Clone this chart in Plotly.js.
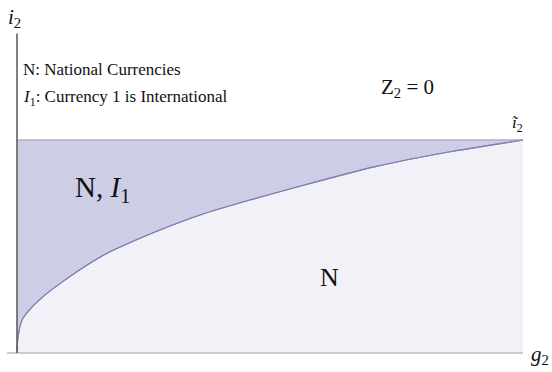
<!DOCTYPE html>
<html>
<head>
<meta charset="utf-8">
<script src="https://cdn.plot.ly/plotly-3.0.1.min.js"></script>
<style>
  html, body { margin: 0; padding: 0; background: #ffffff; }
  #chart { width: 552px; height: 372px; }
</style>
</head>
<body>
<div id="chart"></div>
<script>
// Boundary between the "N" region and the "N, I1" region (g2 normalised, i2 normalised to the ceiling ĩ2 = 1)
const gBoundary = [0, 0.002, 0.010, 0.030, 0.055, 0.089, 0.119, 0.164, 0.190, 0.280, 0.362, 0.460, 0.559, 0.708, 0.856, 0.955, 1.0];
const iBoundary = [0.01, 0.075, 0.155, 0.216, 0.272, 0.333, 0.383, 0.450, 0.482, 0.575, 0.648, 0.718, 0.783, 0.875, 0.945, 0.983, 1.0];

// Ceiling ĩ2 above which Z2 = 0
const gCeiling = [0, 1];
const iCeiling = [1, 1];

const serif = '"Liberation Serif", "Times New Roman", Times, serif';

const traces = [
  {
    // lower region "N"
    x: gBoundary, y: iBoundary, type: 'scatter', mode: 'lines',
    fill: 'tozeroy', fillcolor: '#f1f1f7',
    line: { color: '#8585bb', width: 1.1, shape: 'spline', smoothing: 0.6 },
    hoverinfo: 'skip'
  },
  {
    // upper region "N, I1" up to the ceiling
    x: gCeiling, y: iCeiling, type: 'scatter', mode: 'lines',
    fill: 'tonexty', fillcolor: '#cdcde5',
    line: { color: '#c4a6bf', width: 1.5 },
    hoverinfo: 'skip'
  },
  {
    // boundary curve redrawn on top of the fills
    x: gBoundary, y: iBoundary, type: 'scatter', mode: 'lines',
    line: { color: '#8080b8', width: 1.1, shape: 'spline', smoothing: 0.6 },
    hoverinfo: 'skip'
  }
];

const layout = {
  width: 552, height: 372,
  margin: { l: 0, r: 0, t: 0, b: 0 },
  paper_bgcolor: '#ffffff', plot_bgcolor: '#ffffff',
  showlegend: false,
  xaxis: { range: [-0.0336, 1.0573], visible: false, fixedrange: true },
  yaxis: { range: [-0.0892, 1.6573], visible: false, fixedrange: true },
  shapes: [
    // horizontal axis (g2)
    { type: 'line', xref: 'x', yref: 'y', x0: -0.02, x1: 1.0, y0: 0, y1: 0,
      line: { color: '#bdbdbd', width: 1.5 } },
    // vertical axis (i2)
    { type: 'line', xref: 'x', yref: 'y', x0: 0, x1: 0, y0: 0, y1: 1.50,
      line: { color: '#555555', width: 1.5 } }
  ],
  annotations: [
    { x: -0.004, y: 1.575, xref: 'x', yref: 'y', text: '<i>i</i><sub>2</sub>', showarrow: false,
      font: { family: serif, size: 21, color: '#111' } },
    { x: 1.055, y: -0.01, xref: 'x', yref: 'y', text: '<i>g</i><sub>2</sub>', showarrow: false,
      xanchor: 'right', font: { family: serif, size: 21, color: '#111' } },
    { x: 0.99, y: 1.075, xref: 'x', yref: 'y', text: '<i>ĩ</i><sub>2</sub>', showarrow: false,
      font: { family: serif, size: 17, color: '#111' } },
    { x: 0.008, y: 1.33, xref: 'x', yref: 'y', text: 'N: National Currencies', showarrow: false,
      xanchor: 'left', font: { family: serif, size: 17, color: '#111' } },
    { x: 0.008, y: 1.195, xref: 'x', yref: 'y', text: '<i>I</i><sub>1</sub>: Currency 1 is International', showarrow: false,
      xanchor: 'left', font: { family: serif, size: 17, color: '#111' } },
    { x: 0.772, y: 1.245, xref: 'x', yref: 'y', text: 'Z<sub>2</sub> = 0', showarrow: false,
      font: { family: serif, size: 21, color: '#111' } },
    { x: 0.168, y: 0.772, xref: 'x', yref: 'y', text: 'N, <i>I</i><sub>1</sub>', showarrow: false,
      font: { family: serif, size: 29, color: '#111' } },
    { x: 0.618, y: 0.355, xref: 'x', yref: 'y', text: 'N', showarrow: false,
      font: { family: serif, size: 26, color: '#111' } }
  ]
};

Plotly.newPlot('chart', traces, layout, { staticPlot: true, displayModeBar: false });
</script>
</body>
</html>
